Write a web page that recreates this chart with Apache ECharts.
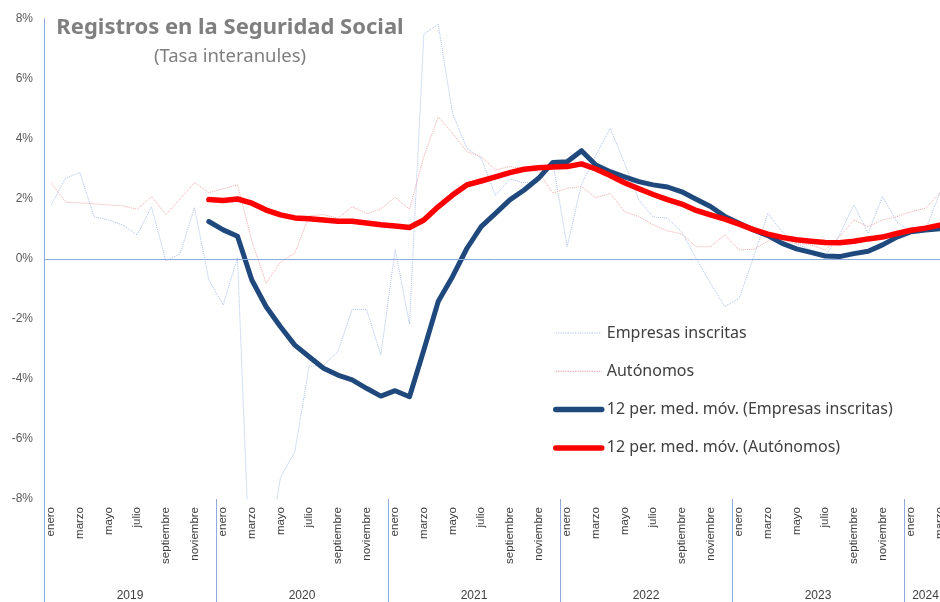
<!DOCTYPE html>
<html>
<head>
<meta charset="utf-8">
<title>Registros en la Seguridad Social</title>
<script src="https://cdn.jsdelivr.net/npm/echarts@6/dist/echarts.min.js"></script>
<style>
  html, body { margin: 0; padding: 0; background: #ffffff; overflow: hidden; }
  /* the plot runs past the right edge of the window, as in the printed chart */
  #chart { width: 960px; height: 602px; }
</style>
</head>
<body>
<div id="chart"></div>
<script>
// Month names used on the horizontal axis
const monthNames = ['enero', 'febrero', 'marzo', 'abril', 'mayo', 'junio',
  'julio', 'agosto', 'septiembre', 'octubre', 'noviembre', 'diciembre'];

// Years shown and how many months of each are in the series
const years = ['2019', '2020', '2021', '2022', '2023', '2024'];
const monthsPerYear = [12, 12, 12, 12, 12, 3];

// Year-on-year growth (%), enero 2019 - marzo 2024
const empresasInscritas = [
  1.80, 2.69, 2.88, 1.41, 1.30, 1.13, 0.80, 1.74, -0.06, 0.17, 1.72, -0.70,
  -1.53, 0.05, -12.0, -10.2, -7.28, -6.42, -3.57, -3.55, -3.09, -1.68, -1.68, -3.20,
  0.32, -2.17, 7.49, 7.83, 4.86, 3.69, 3.36, 2.13, 2.66, 2.54, 2.60, 3.22,
  0.41, 2.50, 3.45, 4.36, 3.20, 1.97, 1.40, 1.36, 0.90, 0.02, -0.81, -1.59,
  -1.31, 0.05, 1.52, 0.90, 0.50, 0.30, 0.10, 0.80, 1.80, 0.86, 2.08, 1.24,
  0.91, 0.97, 2.19
];

const autonomos = [
  2.54, 1.90, 1.87, 1.84, 1.80, 1.77, 1.66, 2.08, 1.48, 2.00, 2.55, 2.21,
  2.34, 2.47, 0.60, -0.81, -0.10, 0.20, 1.44, 1.48, 1.36, 1.74, 1.51, 1.67,
  2.06, 1.66, 3.41, 4.74, 4.19, 3.58, 3.41, 2.97, 3.08, 3.02, 2.91, 2.19,
  2.36, 2.41, 2.04, 2.19, 1.58, 1.41, 1.14, 0.94, 0.83, 0.41, 0.41, 0.80,
  0.30, 0.32, 0.60, 0.62, 0.52, 0.47, 0.30, 0.74, 1.30, 1.08, 1.30, 1.41,
  1.58, 1.69, 2.19
];

// 12-period moving averages (start once twelve months are available)
const mediaEmpresas = [
  null, null, null, null, null, null, null, null, null, null, null, 1.25,
  0.97, 0.76, -0.70, -1.59, -2.26, -2.87, -3.26, -3.64, -3.87, -4.03, -4.31, -4.57,
  -4.39, -4.59, -3.03, -1.42, -0.59, 0.35, 1.08, 1.52, 1.97, 2.30, 2.69, 3.22,
  3.24, 3.61, 3.13, 2.91, 2.74, 2.58, 2.47, 2.40, 2.24, 1.99, 1.75, 1.42,
  1.19, 0.97, 0.78, 0.52, 0.34, 0.22, 0.10, 0.08, 0.18, 0.26, 0.47, 0.73,
  0.91, 0.97, 1.01
];

const mediaAutonomos = [
  null, null, null, null, null, null, null, null, null, null, null, 1.98,
  1.95, 2.00, 1.86, 1.63, 1.47, 1.37, 1.34, 1.30, 1.26, 1.26, 1.20, 1.14,
  1.10, 1.05, 1.30, 1.74, 2.13, 2.47, 2.60, 2.74, 2.88, 2.99, 3.04, 3.07,
  3.08, 3.17, 3.00, 2.78, 2.54, 2.34, 2.15, 1.98, 1.83, 1.62, 1.47, 1.33,
  1.16, 0.98, 0.83, 0.72, 0.64, 0.59, 0.55, 0.54, 0.59, 0.67, 0.73, 0.85,
  0.96, 1.03, 1.13
];

// Category list: one entry per month of data
const categories = [];
years.forEach((y, yi) => {
  for (let m = 0; m < monthsPerYear[yi]; m++) categories.push(monthNames[m] + ' ' + y);
});

// Year separators and year-label centres, in months from the first category
const yearStarts = [];
const yearCentres = [];
let acc = 0;
monthsPerYear.forEach(n => { yearStarts.push(acc); yearCentres.push(acc + n / 2); acc += n; });

const axisBlue = '#8faadc';
const monthWidth = 172 / 12;

const colEmpresas = '#a9c0e6';
const colAutonomos = '#f2aaaa';
const colMediaEmpresas = '#1f497d';
const colMediaAutonomos = '#ff0000';

const chart = echarts.init(document.getElementById('chart'), null, { renderer: 'canvas' });

chart.setOption({
  animation: false,
  backgroundColor: '#ffffff',
  title: {
    text: 'Registros en la Seguridad Social',
    subtext: '(Tasa interanules)',
    left: 225,
    top: 12,
    textAlign: 'center',
    itemGap: 8,
    textStyle: { fontFamily: 'Noto Sans', fontWeight: 'bold', fontSize: 22, color: '#7f7f7f' },
    subtextStyle: { fontFamily: 'Noto Sans', fontSize: 18.5, color: '#7f7f7f' }
  },
  legend: {
    orient: 'vertical',
    left: 548,
    top: 320,
    itemWidth: 46,
    itemHeight: 16,
    itemGap: 22.3,
    itemStyle: { opacity: 0 },
    textStyle: { fontFamily: 'Noto Sans', fontSize: 16, color: '#404040' },
    data: [
      { name: 'Empresas inscritas', lineStyle: { width: 1.2, type: 'dotted', color: colEmpresas } },
      { name: 'Autónomos', lineStyle: { width: 1.2, type: 'dotted', color: colAutonomos } },
      { name: '12 per. med. móv. (Empresas inscritas)', lineStyle: { width: 5.5, cap: 'round', color: colMediaEmpresas } },
      { name: '12 per. med. móv. (Autónomos)', lineStyle: { width: 5.5, cap: 'round', color: colMediaAutonomos } }
    ]
  },
  grid: { left: 44, top: 19, width: monthWidth * categories.length, height: 480, containLabel: false },
  xAxis: [
    {
      type: 'category',
      data: categories,
      boundaryGap: true,
      axisLine: { show: false, onZero: false },
      axisTick: { show: false },
      axisLabel: {
        interval: 1,
        rotate: 90,
        margin: 8,
        fontFamily: 'Liberation Sans',
        fontSize: 11.5,
        color: '#404040',
        formatter: v => v.split(' ')[0]
      },
      splitLine: { show: false }
    },
    {
      type: 'value',
      position: 'bottom',
      min: 0,
      max: categories.length,
      axisLine: { show: false, onZero: false },
      axisTick: {
        show: true,
        length: 104,
        customValues: yearStarts,
        lineStyle: { color: axisBlue, width: 1 }
      },
      axisLabel: {
        customValues: yearCentres,
        margin: 91,
        fontFamily: 'Liberation Sans',
        fontSize: 12,
        color: '#404040',
        formatter: v => years[yearCentres.indexOf(v)] || ''
      },
      splitLine: { show: false }
    }
  ],
  yAxis: {
    type: 'value',
    min: -8,
    max: 8,
    interval: 2,
    axisLine: { show: true, lineStyle: { color: axisBlue, width: 1 } },
    axisTick: { show: false },
    splitLine: { show: false },
    axisLabel: {
      margin: 11,
      fontFamily: 'Liberation Sans',
      fontSize: 12,
      color: '#595959',
      formatter: '{value}%'
    }
  },
  series: [
    {
      name: 'Empresas inscritas',
      type: 'line',
      data: empresasInscritas,
      symbol: 'none',
      clip: true,
      color: colEmpresas,
      lineStyle: { color: colEmpresas, width: 1, type: 'dotted' },
      markLine: {
        silent: true,
        symbol: 'none',
        label: { show: false },
        lineStyle: { color: axisBlue, width: 1, type: 'solid' },
        data: [{ yAxis: 0 }]
      },
      z: 2
    },
    {
      name: 'Autónomos',
      type: 'line',
      data: autonomos,
      symbol: 'none',
      clip: true,
      color: colAutonomos,
      lineStyle: { color: colAutonomos, width: 1, type: 'dotted' },
      z: 2
    },
    {
      name: '12 per. med. móv. (Empresas inscritas)',
      type: 'line',
      data: mediaEmpresas,
      symbol: 'none',
      clip: true,
      color: colMediaEmpresas,
      lineStyle: { color: colMediaEmpresas, width: 5, cap: 'round', join: 'round' },
      z: 3
    },
    {
      name: '12 per. med. móv. (Autónomos)',
      type: 'line',
      data: mediaAutonomos,
      symbol: 'none',
      clip: true,
      color: colMediaAutonomos,
      lineStyle: { color: colMediaAutonomos, width: 5.5, cap: 'round', join: 'round' },
      z: 4
    }
  ]
});
</script>
</body>
</html>
